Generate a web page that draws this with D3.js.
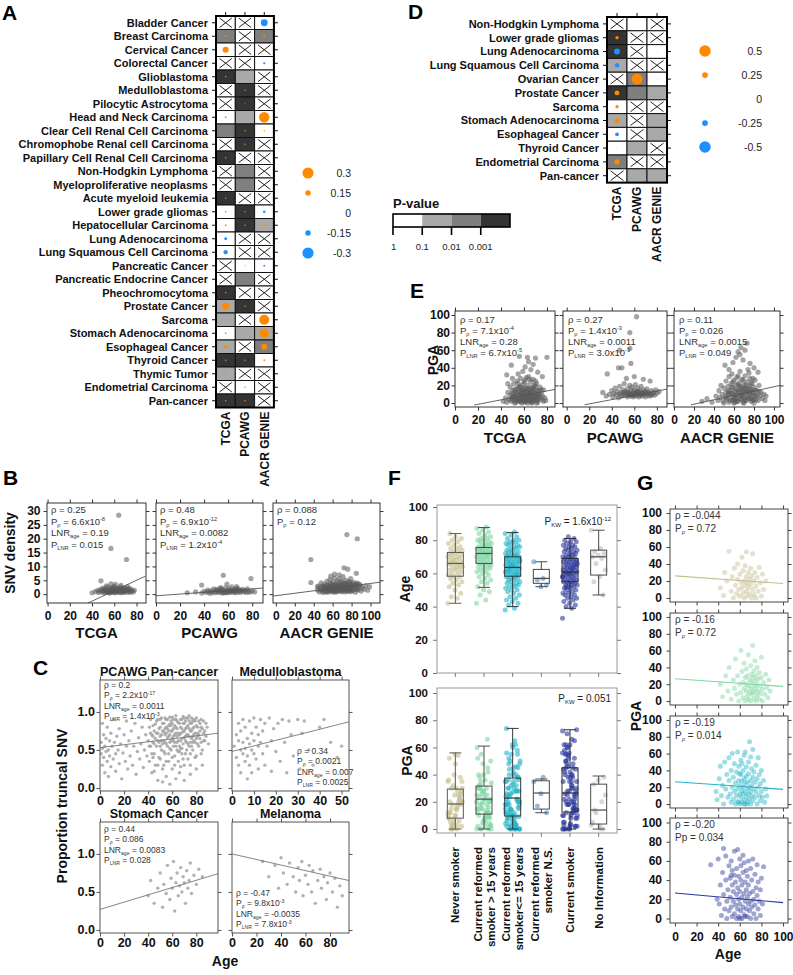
<!DOCTYPE html>
<html><head><meta charset="utf-8">
<script src="https://cdn.jsdelivr.net/npm/d3@7"></script>
<style>body{margin:0;background:#fff} svg{display:block}</style>
</head><body>
<script>
// ================= DATA =================
const datasets = ["TCGA","PCAWG","AACR GENIE"];
const pvalTickLabels = ["1","0.1","0.01","0.001"];

// Panel A: p-value category (0:>0.1, 1:0.1-0.01, 2:0.01-0.001, 3:<0.001, null: not available) and coefficient
const A_rows = ["Bladder Cancer","Breast Carcinoma","Cervical Cancer","Colorectal Cancer","Glioblastoma","Medulloblastoma","Pilocytic Astrocytoma ","Head and Neck Carcinoma","Clear Cell Renal Cell Carcinoma","Chromophobe Renal cell Carcinoma","Papillary Cell Renal Cell Carcinoma","Non-Hodgkin Lymphoma","Myeloproliferative neoplasms","Acute myeloid leukemia","Lower grade gliomas","Hepatocellular Carcinoma","Lung Adenocarcinoma","Lung Squamous Cell Carcinoma","Pancreatic Cancer","Pancreatic Endocrine Cancer","Pheochromocytoma","Prostate Cancer","Sarcoma","Stomach Adenocarcinoma","Esophageal Cancer","Thyroid Cancer","Thymic Tumor","Endometrial Carcinoma","Pan-cancer"];
const A_pcat = [[null,null,0],[2,null,2],[0,null,null],[null,null,0],[3,1,null],[null,3,null],[null,3,null],[0,1,0],[2,3,0],[null,3,null],[3,null,null],[null,2,null],[null,2,null],[3,null,null],[0,3,0],[0,3,1],[0,null,null],[0,null,null],[null,0,0],[null,2,null],[3,null,null],[1,3,null],[1,null,0],[0,1,1],[1,null,2],[3,3,0],[1,null,null],[null,0,null],[3,3,null]];
const A_coef = [[0,0,-0.19],[0.05,0,0.05],[0.17,0,0],[0,0,-0.06],[0.04,0.03,0],[0,0.04,0],[0,0.03,0],[0.05,0.03,0.29],[0.03,0.04,0.04],[0,0.04,0],[0.04,0,0],[0,0.03,0],[0,0.03,0],[0.04,0,0],[-0.04,0.04,-0.07],[0.05,0.04,0.06],[-0.08,0,0],[-0.12,0,0],[0,0.03,-0.05],[0,0.03,0],[0.04,0,0],[0.2,0.04,0],[0.04,0,0.28],[-0.04,0.03,0.26],[0.09,0,0.17],[0.04,0.04,0.05],[0.05,0,0],[0,0.04,0],[0.04,0.04,0]];
const A_legend = [0.3,0.15,0,-0.15,-0.3];

// Panel D
const D_rows = ["Non-Hodgkin Lymphoma","Lower grade gliomas","Lung Adenocarcinoma","Lung Squamous Cell Carcinoma","Ovarian Cancer","Prostate Cancer","Sarcoma","Stomach Adenocarcinoma","Esophageal Cancer","Thyroid Cancer","Endometrial Carcinoma","Pan-cancer"];
const D_pcat = [[null,0,null],[3,null,null],[3,null,0],[1,null,null],[null,2,0],[3,2,1],[0,null,null],[1,null,1],[0,null,1],[0,1,null],[2,null,null],[null,1,1]];
const D_coef = [[0,0.03,0],[0.15,0,0],[-0.27,0,-0.03],[-0.2,0,0],[0,0.5,0.03],[0.22,0.03,0.03],[0.15,0,0],[0.22,0,0.03],[-0.17,0,0.03],[0.04,0.03,0],[0.23,0,0],[0,0.03,0.03]];
const D_legend = [0.5,0.25,0,-0.25,-0.5];

// Panel B: [age, SNV density]
const snvTCGA = [[64,28.5],[57,16.5],[71,12.5],[48,4.8],[57,3.7],[61,3.5],[66,3.2],[53,3.0],[40,0.5],[43,0.9],[45,1.4],[46,0.6],[47,1.1],[48,1.8],[49,0.8],[50,1.3],[50,2.2],[51,0.5],[52,1.6],[52,0.9],[53,1.2],[54,2.5],[54,0.7],[55,1.5],[55,1.0],[56,2.0],[56,0.4],[57,1.3],[57,0.8],[58,2.4],[58,1.1],[59,1.7],[59,0.6],[60,1.2],[60,2.8],[60,0.9],[61,1.5],[61,0.5],[62,2.1],[62,1.0],[63,1.4],[63,0.7],[64,1.9],[64,1.1],[65,2.6],[65,0.8],[66,1.3],[66,0.5],[67,1.8],[67,1.0],[68,2.3],[68,0.6],[69,1.4],[69,0.9],[70,2.0],[70,1.2],[71,0.7],[72,1.6],[72,2.7],[73,1.0],[74,1.3],[74,0.6],[75,1.8],[76,1.1],[77,0.8],[78,1.4],[55,0.7],[58,1.5],[61,1.0],[63,2.0],[66,1.7],[69,1.9],[71,1.4],[73,2.1],[51,1.7],[59,2.3]];
const snvPCAWG = [[56,6.8],[79,5.6],[38,3.3],[59,3.6],[26,0.5],[33,0.8],[38,0.4],[40,1.0],[42,0.6],[43,1.5],[44,0.9],[45,0.3],[46,1.2],[47,0.7],[48,1.8],[49,0.5],[50,1.0],[51,1.4],[52,0.6],[53,2.0],[53,0.9],[54,1.2],[55,0.4],[55,1.7],[56,0.8],[57,1.3],[58,2.2],[58,0.6],[59,1.0],[60,1.5],[60,0.5],[61,1.9],[62,0.8],[62,1.2],[63,2.6],[64,0.7],[64,1.4],[65,1.0],[66,1.8],[66,0.5],[67,1.2],[68,2.1],[68,0.8],[69,1.5],[70,0.6],[71,1.1],[72,1.7],[73,0.9],[74,1.3],[75,0.6],[76,1.9],[77,1.0],[78,0.7],[80,1.2],[82,0.8],[50,1.7],[57,0.5],[61,0.9],[65,1.6],[70,1.4],[54,2.4],[67,2.7]];
const snvGENIE = [[75,21.5],[86,20],[37,12.5],[72,9.5],[76,9],[85,7.5],[99,2.7],[37,4.2],[62,7.2],[67,7.0],[58,6.5],[44,1.5],[45,3.0],[46,0.8],[47,2.2],[48,4.1],[49,1.2],[50,2.8],[50,0.6],[51,1.9],[52,3.6],[52,1.0],[53,2.4],[54,0.7],[54,4.6],[55,1.6],[55,3.1],[56,2.0],[56,0.9],[57,5.2],[57,1.4],[58,2.7],[58,3.8],[59,1.1],[59,2.2],[60,4.4],[60,0.8],[60,1.8],[61,3.3],[61,2.5],[62,1.3],[62,5.8],[63,2.9],[63,0.7],[64,3.9],[64,1.7],[65,2.3],[65,4.8],[65,1.0],[66,3.0],[66,2.0],[67,5.5],[67,1.2],[68,2.6],[68,3.5],[69,0.9],[69,4.2],[70,1.9],[70,3.1],[71,6.3],[71,1.4],[72,2.4],[72,4.0],[73,0.8],[73,3.3],[74,2.0],[74,5.0],[75,1.5],[75,2.8],[76,3.7],[76,1.0],[77,2.2],[77,4.5],[78,1.7],[78,3.0],[79,0.9],[79,5.6],[80,2.5],[80,3.9],[81,1.3],[82,2.9],[82,4.3],[83,1.8],[84,3.4],[84,0.7],[85,2.1],[86,4.0],[87,1.5],[88,2.6],[89,3.2],[90,1.1],[91,2.4],[93,1.8],[95,3.0],[97,1.4],[50,1.5],[51,2.6],[53,1.1],[54,3.2],[55,2.3],[56,1.3],[57,2.9],[58,1.6],[59,3.4],[60,2.6],[61,1.2],[62,2.0],[63,3.6],[64,1.1],[65,2.9],[66,1.5],[67,3.3],[68,1.8],[69,2.8],[70,1.2],[70,4.6],[71,2.6],[72,1.8],[73,3.8],[74,1.3],[75,3.4],[76,2.1],[77,1.3],[78,4.1],[79,2.4],[80,1.6],[81,3.2],[83,2.5],[85,3.6],[86,1.8],[88,3.6],[44,2.6],[47,1.6],[49,3.0],[52,2.0]];
const snvLines = [[[36.4,-3.2],[88,6.5]],[[0,-0.6],[89,2.2]],[[-3,-0.7],[110,4.3]]];
const snvAnn = [["ρ = 0.25","P_{ρ} = 6.6x10^{-8}","LNR_{age} = 0.19","P_{LNR} = 0.015"],["ρ = 0.48","P_{ρ} = 6.9x10^{-12}","LNR_{age} = 0.0082","P_{LNR} = 1.2x10^{-4}"],["ρ = 0.088","P_{ρ} = 0.12"]];

// Panel C: [age, proportion truncal SNV]
const truncPan = [[1,0.45],[1,0.6],[2,0.3],[2,0.52],[2,0.85],[3,0.4],[3,0.7],[4,0.55],[4,0.2],[5,0.48],[5,0.65],[6,0.35],[6,0.8],[7,0.5],[7,0.15],[8,0.62],[8,0.42],[9,0.28],[9,0.72],[10,0.55],[11,0.38],[11,0.9],[12,0.6],[13,0.45],[13,0.22],[14,0.68],[15,0.5],[16,0.32],[16,0.78],[17,0.58],[18,0.12],[19,0.46],[20,0.7],[21,0.35],[22,0.55],[22,0.88],[23,0.25],[24,0.62],[25,0.42],[26,0.75],[27,0.3],[28,0.55],[29,0.85],[30,0.18],[31,0.48],[32,0.66],[33,0.38],[34,0.58],[35,0.8],[36,0.27],[37,0.5],[38,0.7],[39,0.42],[40,0.62],[41,0.8],[41,0.35],[42,0.55],[42,0.9],[43,0.7],[43,0.2],[44,0.6],[44,0.82],[45,0.45],[45,0.75],[46,0.65],[46,0.3],[47,0.88],[47,0.55],[48,0.72],[48,0.1],[49,0.6],[49,0.4],[50,0.8],[50,0.68],[51,0.5],[51,0.92],[52,0.75],[52,0.25],[53,0.62],[53,0.85],[54,0.45],[54,0.7],[55,0.9],[55,0.58],[55,0.15],[56,0.78],[56,0.66],[57,0.35],[57,0.82],[58,0.7],[58,0.52],[59,0.88],[59,0.62],[60,0.75],[60,0.4],[60,0.93],[61,0.68],[61,0.55],[62,0.82],[62,0.3],[63,0.72],[63,0.9],[64,0.6],[64,0.78],[65,0.48],[65,0.86],[66,0.7],[66,0.2],[67,0.8],[67,0.62],[68,0.9],[68,0.52],[69,0.74],[69,0.38],[70,0.85],[70,0.66],[71,0.78],[71,0.45],[72,0.92],[72,0.6],[73,0.7],[73,0.82],[74,0.55],[74,0.88],[75,0.75],[75,0.3],[76,0.65],[76,0.85],[77,0.5],[77,0.78],[78,0.9],[78,0.7],[79,0.6],[80,0.82],[80,0.42],[81,0.72],[82,0.88],[82,0.55],[83,0.65],[84,0.8],[85,0.5],[86,0.72],[87,0.62],[88,0.85],[90,0.58],[58,0.05],[63,0.12],[70,0.1],[75,0.18],[52,0.08],[45,0.22],[67,0.28],[80,0.25],[85,0.3],
  [44,0.68],[45,0.58],[46,0.84],[47,0.72],[48,0.62],[48,0.9],[49,0.78],[50,0.55],[50,0.9],[51,0.7],[51,0.62],[52,0.85],[52,0.58],[53,0.74],[53,0.48],[54,0.92],[54,0.6],[55,0.72],[55,0.8],[56,0.55],[56,0.9],[57,0.68],[57,0.75],[58,0.84],[58,0.6],[59,0.75],[59,0.5],[60,0.65],[60,0.85],[61,0.78],[61,0.9],[62,0.7],[62,0.6],[63,0.55],[63,0.8],[64,0.88],[64,0.68],[65,0.72],[65,0.62],[66,0.85],[66,0.55],[67,0.9],[67,0.72],[68,0.78],[68,0.65],[69,0.85],[69,0.58],[70,0.75],[70,0.92],[71,0.62],[71,0.88],[72,0.7],[72,0.8],[73,0.58],[73,0.92],[74,0.68],[74,0.78],[75,0.85],[75,0.6],[76,0.75],[76,0.92],[77,0.68],[77,0.88],[78,0.62],[78,0.8],[79,0.72],[79,0.88],[80,0.65],[80,0.92],[81,0.8],[81,0.58],[82,0.7],[83,0.85],[83,0.75],[84,0.6],[84,0.9],[85,0.78],[86,0.62],[86,0.88],[87,0.75],[88,0.68],[89,0.8],[55,0.35],[60,0.25],[65,0.35],[70,0.3],[75,0.45],[62,0.42],[68,0.45],[50,0.38],[57,0.45],[79,0.4],[48,0.3],[73,0.38],[84,0.45],[66,0.48],[53,0.3],[44,0.4],[41,0.55],[42,0.72],[43,0.45],[58,0.93],[63,0.95],[69,0.94],[74,0.95],[61,0.62],[67,0.52],[71,0.68],[76,0.55],[59,0.82],[64,0.5],[54,0.78],[81,0.68],[77,0.6],[72,0.5]];
const truncMedullo = [[1,0.55],[2,0.4],[2,0.7],[3,0.3],[3,0.62],[3,0.85],[4,0.5],[4,0.2],[4,0.75],[5,0.45],[5,0.6],[5,0.9],[6,0.35],[6,0.52],[6,0.8],[7,0.12],[7,0.65],[7,0.42],[8,0.58],[8,0.88],[8,0.3],[9,0.5],[9,0.72],[9,0.2],[10,0.62],[10,0.92],[10,0.45],[11,0.38],[11,0.8],[12,0.55],[12,0.25],[12,0.7],[13,0.6],[13,0.9],[14,0.45],[14,0.75],[15,0.85],[15,0.3],[16,0.55],[17,0.92],[18,0.62],[18,0.22],[19,0.78],[20,0.48],[21,0.85],[22,0.35],[23,0.9],[24,0.6],[25,0.2],[26,0.88],[27,0.7],[28,0.42],[30,0.9],[31,0.25],[32,0.72],[33,0.88],[35,0.5],[37,0.3],[40,0.8],[42,0.9],[45,0.6],[48,0.4],[50,0.55]];
const truncStomach = [[40,0.45],[42,0.65],[45,0.35],[48,0.55],[50,0.75],[52,0.3],[53,0.6],[55,0.48],[56,0.85],[58,0.4],[59,0.68],[60,0.55],[61,0.9],[62,0.25],[63,0.62],[64,0.75],[65,0.45],[66,0.58],[67,0.82],[68,0.5],[69,0.7],[70,0.62],[71,0.35],[72,0.78],[73,0.55],[74,0.65],[75,0.88],[76,0.48],[78,0.72],[80,0.6],[82,0.8],[85,0.7]];
const truncMelanoma = [[25,0.9],[30,0.7],[35,0.85],[38,0.55],[40,0.95],[42,0.75],[45,0.6],[47,0.88],[50,0.7],[52,0.5],[54,0.82],[55,0.65],[57,0.9],[58,0.45],[60,0.72],[62,0.6],[63,0.85],[65,0.5],[66,0.78],[68,0.35],[70,0.65],[72,0.8],[73,0.55],[75,0.7],[77,0.4],[78,0.62],[80,0.75],[82,0.5],[84,0.68],[86,0.3],[88,0.58],[90,0.45]];
const truncTitles = ["PCAWG Pan-cancer","Medulloblastoma","Stomach Cancer","Melanoma"];
const truncLines = [[[0,0.53],[98,0.72]],[[0,0.48],[53.4,0.87]],[[0,0.27],[98,0.74]],[[0,1.0],[95.5,0.65]]];
const truncAnn = [["ρ = 0.2","P_{ρ} = 2.2x10^{-17}","LNR_{age} = 0.0011","P_{LNR} = 1.4x10^{-3}"],["ρ = 0.34","P_{ρ} = 0.0021","LNR_{age} = 0.007","P_{LNR} = 0.0025"],["ρ = 0.44","P_{ρ} = 0.086","LNR_{age} = 0.0083","P_{LNR} = 0.028"],["ρ = -0.47","P_{ρ} = 9.8x10^{-3}","LNR_{age} = -0.0035","P_{LNR} = 7.8x10^{-3}"]];

// Panel E: [age, PGA]
const pgaTCGA = [[49,43],[56,53],[63,52],[70,51],[80,52],[61,41],[66,38],[45,32],[76,30],[64,47],[68,44],[59,36],[72,35],[42,2],[44,6],[45,1],[46,12],[47,4],[48,9],[48,18],[49,2],[50,7],[50,14],[51,3],[51,22],[52,10],[52,5],[53,16],[53,1],[54,8],[54,25],[55,3],[55,12],[56,19],[56,6],[57,2],[57,10],[57,28],[58,14],[58,4],[59,8],[59,21],[60,1],[60,11],[60,17],[61,5],[61,26],[62,9],[62,14],[62,2],[63,20],[63,7],[64,12],[64,30],[64,3],[65,16],[65,8],[66,24],[66,1],[66,11],[67,18],[67,5],[68,13],[68,27],[68,2],[69,9],[69,20],[70,6],[70,15],[71,3],[71,22],[72,10],[72,1],[73,14],[73,7],[74,18],[75,4],[75,11],[76,8],[77,2],[77,15],[78,6],[79,3],[46,22],[50,28],[55,33],[52,0],[58,0],[63,0],[67,0],[71,0],
  [49,5],[50,11],[51,8],[52,15],[53,6],[53,12],[54,3],[55,9],[55,17],[56,2],[56,13],[57,5],[57,18],[58,8],[58,11],[59,3],[59,15],[60,6],[60,13],[61,9],[61,2],[62,17],[62,6],[63,12],[63,3],[64,8],[64,16],[65,4],[65,11],[66,7],[66,14],[67,10],[67,2],[68,6],[68,17],[69,12],[69,4],[70,9],[70,19],[71,7],[72,14],[72,4],[73,10],[74,6],[75,15],[60,24],[65,27],[55,22],[70,25],[62,29]];
const pgaPCAWG = [[62,98],[56,80],[56,62],[47,60],[46,40],[49,40],[57,45],[36,33],[53,28],[60,30],[68,27],[74,25],[32,12],[35,8],[38,10],[40,14],[41,7],[42,11],[43,17],[44,9],[45,13],[46,6],[47,10],[47,19],[48,12],[49,8],[50,15],[50,10],[51,22],[52,9],[52,13],[53,11],[54,7],[54,16],[55,12],[55,9],[56,20],[56,11],[57,8],[57,14],[58,10],[58,18],[59,12],[59,7],[60,15],[60,9],[61,11],[61,21],[62,8],[62,13],[63,10],[63,17],[64,12],[64,7],[65,14],[65,10],[66,9],[66,19],[67,12],[67,8],[68,15],[68,11],[69,10],[70,13],[70,7],[71,16],[72,9],[72,12],[73,11],[74,8],[75,14],[76,10],[77,12],[78,9],[79,15],[80,11],[82,13],[51,12],[55,10],[59,9],[63,13],[67,10],[71,11],[75,9]];
const pgaGENIE = [[73,68],[64,58],[51,43],[59,46],[69,49],[76,45],[62,52],[66,55],[55,38],[80,40],[84,35],[71,60],[67,63],[28,2],[33,5],[38,1],[42,8],[44,3],[45,14],[46,6],[47,20],[48,10],[49,2],[50,17],[51,7],[52,25],[52,12],[53,4],[54,19],[54,9],[55,30],[55,1],[56,14],[57,22],[57,6],[58,11],[58,33],[59,3],[59,17],[60,8],[60,26],[61,13],[61,1],[62,20],[62,5],[63,29],[63,10],[64,15],[64,2],[65,23],[65,8],[66,36],[66,12],[67,4],[67,18],[68,27],[68,9],[69,14],[69,1],[70,21],[70,6],[71,31],[71,11],[72,16],[72,3],[73,24],[73,8],[74,13],[74,38],[75,5],[75,19],[76,10],[76,28],[77,2],[77,15],[78,22],[78,7],[79,12],[80,18],[80,4],[81,26],[82,9],[83,14],[84,3],[85,20],[86,8],[87,12],[88,5],[90,10],[91,3],[92,8],[60,0],[70,0],[50,0],[80,0],
  [52,6],[54,14],[56,3],[57,11],[58,18],[60,4],[61,9],[62,15],[63,2],[64,21],[65,13],[66,5],[67,9],[68,16],[69,7],[70,12],[71,3],[72,20],[73,14],[74,6],[75,11],[76,17],[77,5],[78,13],[79,3],[80,9],[81,15],[82,4],[83,8],[85,13],[59,24],[64,31],[69,26],[75,34],[79,28],[61,5],[66,19],[71,17],[77,23],[55,11]];
const pgaLines = [[[16.7,-2.3],[87,15.5]],[[15.8,-2],[89,15.8]],[[17,-2],[106,20]]];
const pgaAnn = [["ρ = 0.17","P_{ρ} = 7.1x10^{-4}","LNR_{age} = 0.28","P_{LNR} = 6.7x10^{-5}"],["ρ = 0.27","P_{ρ} = 1.4x10^{-3}","LNR_{age} = 0.0011","P_{LNR} = 3.0x10^{-3}"],["ρ = 0.11","P_{ρ} = 0.026","LNR_{age} = 0.0015","P_{LNR} = 0.049"]];

// Panels F & G: smoking status groups, patients as [age, PGA]
const smokeGroups = ["Never smoker","Current reformed smoker > 15 years","Current reformed smoker<= 15 years","Current reformed smoker N.S.","Current smoker","No Information"];
const smokeLabelLines = [["Never smoker"],["Current reformed","smoker > 15 years"],["Current reformed","smoker<= 15 years"],["Current reformed","smoker N.S."],["Current smoker"],["No Information"]];
const neverSmoker = [[42,12],[45,3],[46,30],[48,20],[50,55],[52,8],[53,25],[54,0],[55,35],[56,15],[57,5],[58,22],[58,40],[59,10],[60,28],[60,2],[61,18],[62,48],[62,12],[63,6],[63,32],[64,20],[64,0],[65,15],[65,38],[66,25],[66,8],[66,54],[67,18],[67,2],[68,30],[68,12],[69,22],[69,5],[70,35],[70,16],[71,0],[71,26],[72,10],[72,52],[73,20],[73,4],[74,30],[75,14],[75,0],[76,24],[77,8],[78,36],[79,18],[80,2],[81,28],[82,10],[84,20]];
const reformedOver15 = [[42,20],[44,5],[47,30],[49,12],[50,40],[52,2],[54,25],[55,15],[56,50],[57,8],[58,30],[59,0],[60,20],[61,60],[61,10],[62,35],[63,4],[63,22],[64,15],[64,45],[65,28],[65,0],[66,12],[66,38],[66,20],[67,6],[67,30],[68,18],[68,55],[68,2],[69,25],[69,10],[70,42],[70,15],[70,0],[71,22],[71,32],[71,8],[72,28],[72,12],[72,66],[73,18],[73,3],[73,36],[74,24],[74,10],[74,48],[75,15],[75,30],[75,0],[76,20],[76,6],[76,40],[77,12],[77,26],[78,34],[78,2],[79,18],[79,9],[80,28],[80,52],[81,14],[81,0],[82,22],[83,8],[84,32],[85,16],[86,4],[87,25],[88,12]];
const reformedUnder15 = [[38,15],[39,5],[41,30],[42,45],[43,10],[44,22],[45,0],[46,50],[47,18],[48,35],[49,8],[50,28],[50,55],[51,12],[52,2],[52,40],[53,20],[53,60],[54,6],[54,32],[55,15],[55,48],[56,0],[56,25],[57,38],[57,10],[58,18],[58,62],[58,3],[59,28],[59,45],[60,12],[60,22],[60,0],[61,35],[61,8],[61,52],[62,16],[62,27],[62,2],[63,40],[63,12],[63,20],[64,5],[64,30],[64,58],[65,14],[65,24],[65,0],[66,44],[66,9],[66,33],[67,18],[67,3],[67,26],[68,50],[68,12],[68,36],[69,20],[69,6],[69,74],[70,28],[70,15],[70,0],[71,42],[71,10],[71,22],[72,32],[72,4],[72,65],[73,18],[73,38],[74,8],[74,26],[75,46],[75,14],[76,0],[76,30],[77,20],[77,55],[78,10],[78,35],[79,4],[79,24],[80,15],[80,40],[81,8],[82,28],[83,2],[84,18],[85,10],[62,48],[60,36],[65,62],[70,56],[59,2],[64,0],[67,0]];
const reformedNS = [[67,35],[57,38],[56,17],[53,12],[52,26]];
const currentSmoker = [[33,56],[39,20],[40,62],[41,15],[42,35],[43,3],[44,48],[45,25],[45,73],[46,10],[47,40],[47,65],[48,18],[48,0],[49,30],[50,55],[50,8],[51,42],[51,22],[52,12],[52,60],[53,2],[53,35],[53,50],[54,18],[54,28],[55,5],[55,45],[55,70],[56,14],[56,38],[57,0],[57,25],[57,52],[58,10],[58,32],[59,20],[59,44],[59,2],[60,62],[60,15],[60,28],[61,8],[61,40],[61,55],[62,22],[62,0],[62,35],[63,12],[63,48],[64,26],[64,4],[64,58],[65,18],[65,38],[66,10],[66,30],[66,50],[67,2],[67,22],[67,44],[68,15],[68,60],[68,35],[69,8],[69,26],[70,52],[70,18],[70,0],[71,40],[71,12],[72,28],[72,62],[73,5],[73,20],[74,46],[74,14],[75,32],[75,0],[76,24],[76,56],[77,10],[77,38],[78,18],[79,30],[79,3],[80,42],[81,15],[82,54],[58,72],[63,66],[52,45],[65,2],[60,0]];
const noInformation = [[86,3],[75,0],[73,14],[72,38],[71,36],[70,5],[69,20],[66,12],[62,25],[58,2],[55,33],[47,0]];
const smokePts = [neverSmoker,reformedOver15,reformedUnder15,reformedNS,currentSmoker,noInformation];
// box stats: [low whisker, Q1, median, Q3, high whisker]
const ageBox = [[42,58.3,66,72.6,84],[51.6,66,72,75.6,87.6],[40,58.3,63.6,70,84.6],[52,54,57,62.4,67],[39,55,60.8,69,81],[47,59,70,74,86]];
const pgaBox = [[0,8,18.4,29.4,56],[0,11,22,31.6,61],[0,9.6,22.8,37.5,74],[12,14.7,26.5,35.5,36.8],[0,12.5,26.5,45,73],[0,3.7,14,33,39]];
const pkwAge = "P_{KW} = 1.6x10^{-12}";
const pkwPga = "P_{KW} = 0.051";
// Panel G: groups shown, regression (PGA at age 0, PGA at age 100), annotations
const gGroups = [0,1,2,4];
const gLines = [[26,17],[26.5,17.5],[26.5,17.5],[26.5,16.5]];
const gAnn = [["ρ = -0.044","P_{ρ} = 0.72"],["ρ = -0.16","P_{ρ} = 0.72"],["ρ = -0.19","P_{ρ} = 0.014"],["ρ = -0.20","Pp = 0.034"]];

// ================= STYLE / DRAW =================
const FONT = "'Liberation Sans', Arial, Helvetica, sans-serif";
const PCOL = ["#ffffff","#a9a9a9","#7f7f7f","#343434"];
const ORANGE = "#ff8a00", BLUE = "#1e8fff";
const GCOL = ["#c4bf8e","#7fd6a2","#25b4c6","#4a8ed0","#2c399c","#bdbdbd"];
const BOXSTROKE = ["#5a5a5a","#4a4a4a","#2a3a40","#4a4a4a","#2a2a3a","#4a4a4a"];

const svg = d3.select("body").append("svg").attr("width",793).attr("height",975)
  .style("font-family",FONT);
const defs = svg.append("defs");
let clipN = 0;

function rich(t, s, fs){
  const parts = s.split(/(_\{[^}]*\}|\^\{[^}]*\})/).filter(p=>p.length);
  let shift = 0;
  parts.forEach(p=>{
    let target=0, size=fs, c=p;
    if(p.startsWith("_{")){target=fs*0.22; size=fs*0.6; c=p.slice(2,-1);}
    else if(p.startsWith("^{")){target=-fs*0.42; size=fs*0.6; c=p.slice(2,-1);}
    t.append("tspan").attr("dy",target-shift).attr("font-size",size).text(c);
    shift = target;
  });
}
function txt(x,y,s,o={}){
  const fs=o.fs||10;
  const t=svg.append("text").attr("x",x).attr("y",y).attr("font-size",fs)
    .attr("font-weight",o.fw||"normal").attr("text-anchor",o.anchor||"start")
    .attr("fill",o.fill||"#111");
  if(o.rot) t.attr("transform",`rotate(${o.rot},${x},${y})`);
  rich(t,s,fs);
  return t;
}

// ---------- heatmaps ----------
function heatmap(o){
  const g = svg.append("g");
  const xs = d3.scaleBand().domain(datasets).range([o.x, o.x+3*o.cw]);
  const ys = d3.scaleBand().domain(o.rows).range([o.y, o.y+o.rows.length*o.rh]);
  const bw = xs.bandwidth(), bh = ys.bandwidth();
  o.rows.forEach((row,i)=>{
    datasets.forEach((ds,j)=>{
      const pc=o.pcat[i][j], cx=xs(ds), cy=ys(row);
      g.append("rect").attr("x",cx).attr("y",cy).attr("width",bw).attr("height",bh)
        .attr("fill", pc===null ? "#fff" : PCOL[pc]).attr("stroke","#111").attr("stroke-width",1);
      if(pc===null){
        g.append("line").attr("x1",cx+3.5).attr("y1",cy+2).attr("x2",cx+bw-3.5).attr("y2",cy+bh-2).attr("stroke","#222").attr("stroke-width",1);
        g.append("line").attr("x1",cx+bw-3.5).attr("y1",cy+2).attr("x2",cx+3.5).attr("y2",cy+bh-2).attr("stroke","#222").attr("stroke-width",1);
      } else {
        const v=o.coef[i][j];
        if(v!==0) g.append("circle").attr("cx",cx+bw/2).attr("cy",cy+bh/2).attr("r",o.rk*Math.abs(v))
          .attr("fill", v>0?ORANGE:BLUE);
      }
    });
    g.append("line").attr("x1",o.x-4).attr("x2",o.x).attr("y1",ys(row)+bh/2).attr("y2",ys(row)+bh/2).attr("stroke","#111");
    g.append("line").attr("x1",o.x+3*o.cw).attr("x2",o.x+3*o.cw+4).attr("y1",ys(row)+bh/2).attr("y2",ys(row)+bh/2).attr("stroke","#111");
    g.append("text").attr("x",o.x-8).attr("y",ys(row)+bh/2+3.8).attr("text-anchor","end")
      .attr("font-size",11).attr("font-weight","bold").attr("fill","#111").text(row);
  });
  g.append("rect").attr("x",o.x).attr("y",o.y).attr("width",3*o.cw).attr("height",o.rows.length*o.rh)
    .attr("fill","none").attr("stroke","#000").attr("stroke-width",2);
  datasets.forEach(ds=>{
    const cx=xs(ds)+bw/2;
    g.append("line").attr("x1",cx).attr("x2",cx).attr("y1",o.y-4).attr("y2",o.y).attr("stroke","#111");
    const ty=o.y+o.rows.length*o.rh+4;
    g.append("text").attr("transform",`translate(${cx+4.3},${ty}) rotate(-90)`).attr("text-anchor","end")
      .attr("font-size",12).attr("font-weight","bold").attr("fill","#111").text(ds);
  });
}
function sizeLegend(vals, x, labelX, y0, dy, rk){
  vals.forEach((v,i)=>{
    const y=y0+i*dy;
    if(v!==0) svg.append("circle").attr("cx",x).attr("cy",y).attr("r",rk*Math.abs(v)).attr("fill",v>0?ORANGE:BLUE);
    svg.append("text").attr("x",labelX).attr("y",y+3.5).attr("text-anchor","end").attr("font-size",10.5).attr("fill","#222").text(String(v));
  });
}

heatmap({rows:A_rows,pcat:A_pcat,coef:A_coef,x:216,y:16,cw:19.3,rh:13.5,rk:18});
sizeLegend(A_legend,308,351,173,20,18.5);
heatmap({rows:D_rows,pcat:D_pcat,coef:D_coef,x:607,y:17,cw:20,rh:13.8,rk:11});
sizeLegend(D_legend,705,762,51,24,11.5);

// p-value legend
(function(){
  const x=d3.scaleLinear().domain([0,4]).range([393,510]);
  txt(393,208,"P-value",{fs:13,fw:"bold"});
  PCOL.forEach((c,i)=>svg.append("rect").attr("x",x(i)).attr("y",214).attr("width",x(i+1)-x(i)).attr("height",13).attr("fill",c));
  svg.append("rect").attr("x",393).attr("y",214).attr("width",117).attr("height",13).attr("fill","none").attr("stroke","#000").attr("stroke-width",1.6);
  pvalTickLabels.forEach((l,i)=>{
    svg.append("line").attr("x1",x(i)).attr("x2",x(i)).attr("y1",227).attr("y2",235).attr("stroke","#000").attr("stroke-width",1.6);
    svg.append("text").attr("x",x(i)-(i===0?2:0)).attr("y",250).attr("text-anchor",i===0?"start":"middle").attr("font-size",9.5).attr("fill","#222").text(l);
  });
})();

// ---------- scatter ----------
function scatter(o){
  const x=d3.scaleLinear().domain(o.xdom).range(o.fx);
  const y=d3.scaleLinear().domain(o.ydom).range([o.fy[1],o.fy[0]]);
  const id="clip"+(clipN++);
  defs.append("clipPath").attr("id",id).append("rect").attr("x",o.fx[0]).attr("y",o.fy[0])
    .attr("width",o.fx[1]-o.fx[0]).attr("height",o.fy[1]-o.fy[0]);
  const g=svg.append("g");
  const pg=g.append("g").attr("clip-path",`url(#${id})`);
  pg.selectAll("circle").data(o.pts).join("circle").attr("cx",d=>x(d[0])).attr("cy",d=>y(d[1]))
    .attr("r",o.r).attr("fill",o.color).attr("fill-opacity",o.op);
  if(o.line) pg.append("line").attr("x1",x(o.line[0][0])).attr("y1",y(o.line[0][1]))
    .attr("x2",x(o.line[1][0])).attr("y2",y(o.line[1][1])).attr("stroke",o.lineColor||"#555").attr("stroke-width",o.lw||0.9);
  g.append("rect").attr("x",o.fx[0]).attr("y",o.fy[0]).attr("width",o.fx[1]-o.fx[0]).attr("height",o.fy[1]-o.fy[0])
    .attr("fill","none").attr("stroke",o.frame||"#333").attr("stroke-width",1);
  const tl=3.5;
  const mk=(axis,tr)=>{
    const a=g.append("g").attr("transform",tr).call(axis);
    a.select(".domain").remove();
    a.selectAll(".tick line").attr("stroke",o.frame||"#333");
    a.selectAll("text").attr("font-size",o.tfs).attr("font-weight","bold").attr("fill","#111").attr("font-family",FONT);
  };
  mk(d3.axisBottom(x).tickValues(o.xt).tickSize(tl).tickPadding(o.xpad).tickFormat(o.xl?(o.xf||d3.format("d")):""),`translate(0,${o.fy[1]})`);
  mk(d3.axisTop(x).tickValues(o.xt).tickSize(tl).tickFormat(""),`translate(0,${o.fy[0]})`);
  mk(d3.axisLeft(y).tickValues(o.yt).tickSize(tl).tickPadding(o.ypad).tickFormat(o.yl?(o.yf||d3.format("d")):""),`translate(${o.fx[0]},0)`);
  mk(d3.axisRight(y).tickValues(o.yt).tickSize(tl).tickFormat(""),`translate(${o.fx[1]},0)`);
  if(o.ann) o.ann.forEach((s,i)=>txt(o.annX,o.annY+i*o.annDy,s,{fs:o.afs,fill:"#333"}));
  return {x,y};
}

// ---------- Panel B ----------
const bFrames=[[47,146,[-0.5,88.5],[0,20,40,60,80]],[156,263,[0,89],[0,20,40,60,80]],[273,380,[-3,110],[0,20,40,60,80,100]]];
[snvTCGA,snvPCAWG,snvGENIE].forEach((pts,i)=>{
  const f=bFrames[i];
  scatter({fx:[f[0],f[1]],fy:[503,603],xdom:f[2],ydom:[-3.2,32.9],xt:f[3],yt:[0,5,10,15,20,25,30],
    xl:true,yl:i===0,xpad:5,ypad:3,tfs:12,pts,r:2.6,color:"#5a5a5a",op:0.55,line:snvLines[i],
    ann:snvAnn[i],annX:f[0]+4,annY:513,annDy:11.5,afs:9.5});
  txt((f[0]+f[1])/2,638,datasets[i],{fs:15,fw:"bold",anchor:"middle"});
});
txt(15,553,"SNV density",{fs:14,fw:"bold",anchor:"middle",rot:-90});

// ---------- Panel C ----------
const cFrames=[[100,218,680,791,[0,98],[0,20,40,60,80]],[232,349,680,791,[0,53.4],[0,10,20,30,40,50]],[100,218,822,933,[0,98],[0,20,40,60,80]],[232,349,822,933,[0,95.5],[0,20,40,60,80]]];
const cAnnPos=[[104,688],[297,754],[104,832],[236,896]];
[truncPan,truncMedullo,truncStomach,truncMelanoma].forEach((pts,i)=>{
  const f=cFrames[i];
  scatter({fx:[f[0],f[1]],fy:[f[2],f[3]],xdom:f[4],ydom:[-0.04,1.42],xt:f[5],yt:[0,0.5,1.0],
    xl:true,yl:(i%2===0),xf:d3.format("d"),yf:d3.format(".1f"),xpad:1.5,ypad:1.5,tfs:12.5,pts,r:1.7,color:"#a3a3a3",op:0.85,
    line:truncLines[i],lineColor:"#777",frame:"#555",ann:truncAnn[i],annX:cAnnPos[i][0],annY:cAnnPos[i][1],annDy:10.4,afs:8.5});
  txt((f[0]+f[1])/2,f[2]-4,truncTitles[i],{fs:12.5,fw:"bold",anchor:"middle"});
});
txt(67,806,"Proportion truncal SNV",{fs:14,fw:"bold",anchor:"middle",rot:-90});
txt(225,966,"Age",{fs:14,fw:"bold",anchor:"middle"});

// ---------- Panel E ----------
const eFrames=[[455,555,[0,87],[0,20,40,60,80]],[563,667,[-3.3,89],[0,20,40,60,80]],[674,780,[0,106],[0,20,40,60,80,100]]];
[pgaTCGA,pgaPCAWG,pgaGENIE].forEach((pts,i)=>{
  const f=eFrames[i];
  scatter({fx:[f[0],f[1]],fy:[311,407],xdom:f[2],ydom:[-4.5,104.5],xt:f[3],yt:[0,20,40,60,80,100],
    xl:true,yl:i===0,xpad:5,ypad:1.5,tfs:12,pts,r:2.6,color:"#5a5a5a",op:0.55,line:pgaLines[i],
    ann:pgaAnn[i],annX:f[0]+5,annY:323,annDy:11,afs:9.5});
  txt((f[0]+f[1])/2,443,datasets[i],{fs:15,fw:"bold",anchor:"middle"});
});
txt(438,360,"PGA",{fs:14,fw:"bold",anchor:"middle",rot:-90});

// ---------- Panel F ----------
function boxPanel(o){
  const xb=d3.scaleBand().domain(smokeGroups).range([441,613]);
  const cxf=gname=>xb(gname)+xb.bandwidth()/2;
  const y=d3.scaleLinear().domain(o.ydom).range([o.fy[1],o.fy[0]]);
  const g=svg.append("g");
  g.append("rect").attr("x",437).attr("y",o.fy[0]).attr("width",180).attr("height",o.fy[1]-o.fy[0])
    .attr("fill","none").attr("stroke","#9a9a9a").attr("stroke-width",1);
  smokeGroups.forEach((gname,gi)=>{
    const cx=cxf(gname);
    const pts=smokePts[gi];
    g.selectAll(null).data(pts).join("circle")
      .attr("cx",(d,i)=>cx+(((i*0.6180339887)%1)-0.5)*15)
      .attr("cy",d=>y(d[o.col])).attr("r",2.5).attr("fill",GCOL[gi]).attr("fill-opacity",0.6);
    const b=o.box[gi], bw=16;
    const st=BOXSTROKE[gi];
    g.append("line").attr("x1",cx).attr("x2",cx).attr("y1",y(b[0])).attr("y2",y(b[1])).attr("stroke",st);
    g.append("line").attr("x1",cx).attr("x2",cx).attr("y1",y(b[3])).attr("y2",y(b[4])).attr("stroke",st);
    [b[0],b[4]].forEach(v=>g.append("line").attr("x1",cx-6).attr("x2",cx+6).attr("y1",y(v)).attr("y2",y(v)).attr("stroke",st));
    g.append("rect").attr("x",cx-bw/2).attr("y",y(b[3])).attr("width",bw).attr("height",y(b[1])-y(b[3]))
      .attr("fill","none").attr("stroke",st);
    g.append("line").attr("x1",cx-bw/2).attr("x2",cx+bw/2).attr("y1",y(b[2])).attr("y2",y(b[2])).attr("stroke",st).attr("stroke-width",1.2);
    g.append("line").attr("x1",cx).attr("x2",cx).attr("y1",o.fy[1]).attr("y2",o.fy[1]+4).attr("stroke","#777");
  });
  const la=g.append("g").attr("transform","translate(437,0)").call(d3.axisLeft(y).tickValues([0,20,40,60,80,100]).tickSize(4).tickPadding(5));
  la.select(".domain").remove(); la.selectAll(".tick line").attr("stroke","#777");
  la.selectAll("text").attr("font-size",11.5).attr("font-weight","bold").attr("fill","#111").attr("font-family",FONT);
  const ra=g.append("g").attr("transform","translate(617,0)").call(d3.axisRight(y).tickValues([0,20,40,60,80,100]).tickSize(4).tickFormat(""));
  ra.select(".domain").remove(); ra.selectAll(".tick line").attr("stroke","#777");
  txt(611,o.pkwY,o.pkw,{fs:10,anchor:"end",fill:"#222"});
  txt(o.labX,(o.fy[0]+o.fy[1])/2,o.label,{fs:14,fw:"bold",anchor:"middle",rot:-90});
  return cxf;
}
boxPanel({col:0,ydom:[0,101.2],fy:[505,673],box:ageBox,pkw:pkwAge,pkwY:525,label:"Age",labX:410});
const cxf=boxPanel({col:1,ydom:[-2.9,103.7],fy:[688,833],box:pgaBox,pkw:pkwPga,pkwY:702,label:"PGA",labX:412});
smokeGroups.forEach((gname,gi)=>{
  const lines=smokeLabelLines[gi], cx=cxf(gname);
  lines.forEach((l,li)=>{
    const off=lines.length===1?0:(li===0?-6.5:6.5);
    svg.append("text").attr("transform",`translate(${cx+off+4},847) rotate(-90)`).attr("text-anchor","end")
      .attr("font-size",11.5).attr("font-weight","bold").attr("fill","#111").text(l);
  });
});

// ---------- Panel G ----------
const gFramesY=[[509,602],[613,705],[716,808],[818,923]];
gGroups.forEach((gi,k)=>{
  const fy=gFramesY[k];
  scatter({fx:[670,788],fy:fy,xdom:[-4.6,104.6],ydom:[-4.7,104.7],xt:[0,20,40,60,80,100],yt:[0,20,40,60,80,100],
    xl:k===3,yl:true,xpad:6,ypad:4.5,tfs:12,pts:smokePts[gi],r:2.5,color:GCOL[gi],op:0.45,
    line:[[0,gLines[k][0]],[100,gLines[k][1]]],lineColor:GCOL[gi],lw:1.1,frame:"#444",
    ann:gAnn[k],annX:675,annY:fy[0]+10,annDy:12.5,afs:10});
});
txt(641,716,"PGA",{fs:14,fw:"bold",anchor:"middle",rot:-90});
txt(728,959,"Age",{fs:14,fw:"bold",anchor:"middle"});

// ---------- panel letters ----------
[["A",2,20],["D",408,19],["B",3,485],["C",33,675],["E",410,298],["F",388,485],["G",637,490]].forEach(d=>
  txt(d[1],d[2],d[0],{fs:21,fw:"bold",fill:"#000"}));
</script>
</body></html>
